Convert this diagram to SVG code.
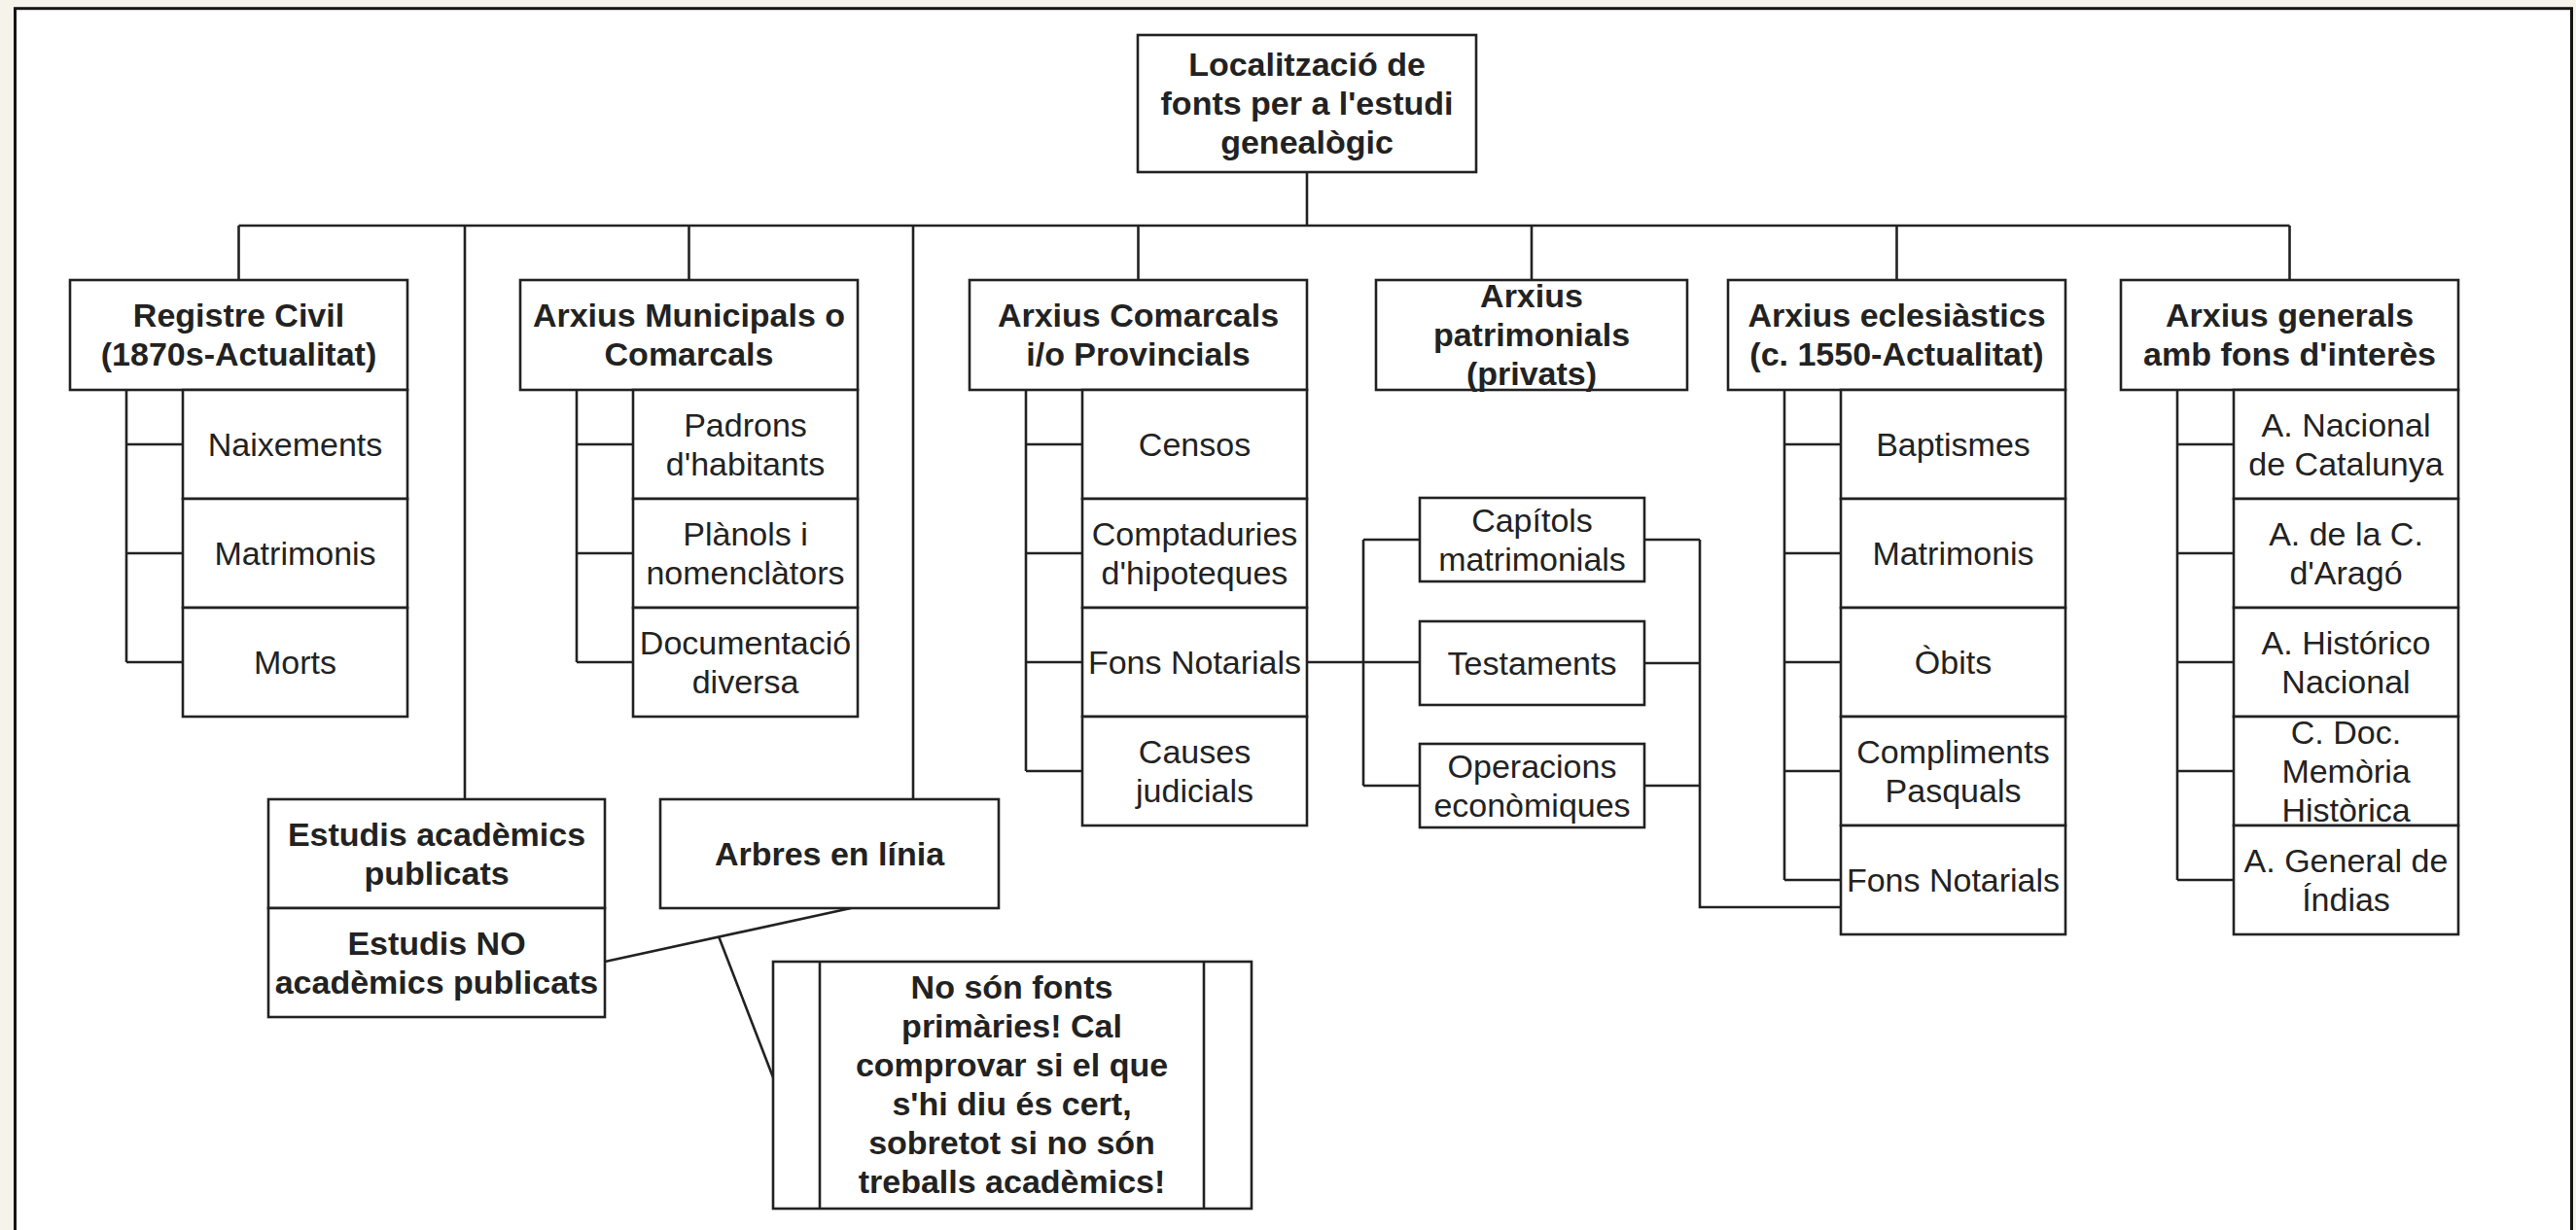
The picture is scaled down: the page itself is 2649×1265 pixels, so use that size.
<svg xmlns="http://www.w3.org/2000/svg" width="2649" height="1265" viewBox="0 0 2649 1265">
<style>
.bx{fill:#fff;stroke:#222;stroke-width:2.6}
.cn{fill:none;stroke:#222;stroke-width:2.6}
text{font-family:"Liberation Sans",Arial,sans-serif;font-size:34px;fill:#222;text-anchor:middle}
.b{font-weight:bold}
</style>
<rect x="0" y="0" width="2649" height="1265" fill="#f6f3eb"/>
<rect x="15.5" y="8.7" width="2629" height="1270" fill="#fff" stroke="#151515" stroke-width="3"/>
<g id="connectors">
<path class="cn" d="M1344 177V232M245.5 232H2354.5M245.5 232V288M478 232V822M708.5 232V288M939 232V822M1170.5 232V288M1575 232V288M1950.5 232V288M2354.5 232V288"/>
<path class="cn" d="M130 401V681M130 457H188M130 569H188M130 681H188"/>
<path class="cn" d="M593 401V681M593 457H651M593 569H651M593 681H651"/>
<path class="cn" d="M1055 401V793M1055 457H1113M1055 569H1113M1055 681H1113M1055 793H1113"/>
<path class="cn" d="M1835 401V905M1835 457H1893M1835 569H1893M1835 681H1893M1835 793H1893M1835 905H1893"/>
<path class="cn" d="M2239 401V905M2239 457H2297M2239 569H2297M2239 681H2297M2239 793H2297M2239 905H2297"/>
<path class="cn" d="M1344 681H1460M1402 555V808M1402 555H1460M1402 808H1460"/>
<path class="cn" d="M1691 555H1748M1691 682H1748M1691 808H1748M1748 555V933H1893"/>
<path class="cn" d="M622 989L875 934M739 963L795 1108"/>
</g>
<g id="root"><rect class="bx" x="1170" y="36" width="348" height="141"/>
<text class="b" x="1344" y="78">Localització de</text><text class="b" x="1344" y="118">fonts per a l'estudi</text><text class="b" x="1344" y="158">genealògic</text></g>

<g id="registre"><rect class="bx" x="72" y="288" width="347" height="113"/>
<text class="b" x="245.5" y="336">Registre Civil</text><text class="b" x="245.5" y="376">(1870s-Actualitat)</text></g>
<g id="registre-items">
<rect class="bx" x="188" y="401" width="231" height="112"/><text x="303.5" y="469">Naixements</text>
<rect class="bx" x="188" y="513" width="231" height="112"/><text x="303.5" y="581">Matrimonis</text>
<rect class="bx" x="188" y="625" width="231" height="112"/><text x="303.5" y="693">Morts</text>
</g>

<g id="municipals"><rect class="bx" x="535" y="288" width="347" height="113"/>
<text class="b" x="708.5" y="336">Arxius Municipals o</text><text class="b" x="708.5" y="376">Comarcals</text></g>
<g id="municipals-items">
<rect class="bx" x="651" y="401" width="231" height="112"/><text x="766.5" y="449">Padrons</text><text x="766.5" y="489">d'habitants</text>
<rect class="bx" x="651" y="513" width="231" height="112"/><text x="766.5" y="561">Plànols i</text><text x="766.5" y="601">nomenclàtors</text>
<rect class="bx" x="651" y="625" width="231" height="112"/><text x="766.5" y="673">Documentació</text><text x="766.5" y="713">diversa</text>
</g>

<g id="comarcals"><rect class="bx" x="997" y="288" width="347" height="113"/>
<text class="b" x="1170.5" y="336">Arxius Comarcals</text><text class="b" x="1170.5" y="376">i/o Provincials</text></g>
<g id="comarcals-items">
<rect class="bx" x="1113" y="401" width="231" height="112"/><text x="1228.5" y="469">Censos</text>
<rect class="bx" x="1113" y="513" width="231" height="112"/><text x="1228.5" y="561">Comptaduries</text><text x="1228.5" y="601">d'hipoteques</text>
<rect class="bx" x="1113" y="625" width="231" height="112"/><text x="1228.5" y="693">Fons Notarials</text>
<rect class="bx" x="1113" y="737" width="231" height="112"/><text x="1228.5" y="785">Causes</text><text x="1228.5" y="825">judicials</text>
</g>

<g id="patrimonials"><rect class="bx" x="1415" y="288" width="320" height="113"/>
<text class="b" x="1575" y="316">Arxius</text><text class="b" x="1575" y="356">patrimonials</text><text class="b" x="1575" y="396">(privats)</text></g>

<g id="capitols"><rect class="bx" x="1460" y="512" width="231" height="86"/><text x="1575.5" y="547">Capítols</text><text x="1575.5" y="587">matrimonials</text></g>
<g id="testaments"><rect class="bx" x="1460" y="639" width="231" height="86"/><text x="1575.5" y="694">Testaments</text></g>
<g id="operacions"><rect class="bx" x="1460" y="765" width="231" height="86"/><text x="1575.5" y="800">Operacions</text><text x="1575.5" y="840">econòmiques</text></g>

<g id="eclesiastics"><rect class="bx" x="1777" y="288" width="347" height="113"/>
<text class="b" x="1950.5" y="336">Arxius eclesiàstics</text><text class="b" x="1950.5" y="376">(c. 1550-Actualitat)</text></g>
<g id="eclesiastics-items">
<rect class="bx" x="1893" y="401" width="231" height="112"/><text x="2008.5" y="469">Baptismes</text>
<rect class="bx" x="1893" y="513" width="231" height="112"/><text x="2008.5" y="581">Matrimonis</text>
<rect class="bx" x="1893" y="625" width="231" height="112"/><text x="2008.5" y="693">Òbits</text>
<rect class="bx" x="1893" y="737" width="231" height="112"/><text x="2008.5" y="785">Compliments</text><text x="2008.5" y="825">Pasquals</text>
<rect class="bx" x="1893" y="849" width="231" height="112"/><text x="2008.5" y="917">Fons Notarials</text>
</g>

<g id="generals"><rect class="bx" x="2181" y="288" width="347" height="113"/>
<text class="b" x="2354.5" y="336">Arxius generals</text><text class="b" x="2354.5" y="376">amb fons d'interès</text></g>
<g id="generals-items">
<rect class="bx" x="2297" y="401" width="231" height="112"/><text x="2412.5" y="449">A. Nacional</text><text x="2412.5" y="489">de Catalunya</text>
<rect class="bx" x="2297" y="513" width="231" height="112"/><text x="2412.5" y="561">A. de la C.</text><text x="2412.5" y="601">d'Aragó</text>
<rect class="bx" x="2297" y="625" width="231" height="112"/><text x="2412.5" y="673">A. Histórico</text><text x="2412.5" y="713">Nacional</text>
<rect class="bx" x="2297" y="737" width="231" height="112"/><text x="2412.5" y="765">C. Doc.</text><text x="2412.5" y="805">Memòria</text><text x="2412.5" y="845">Històrica</text>
<rect class="bx" x="2297" y="849" width="231" height="112"/><text x="2412.5" y="897">A. General de</text><text x="2412.5" y="937">Índias</text>
</g>

<g id="estudis"><rect class="bx" x="276" y="822" width="346" height="112"/>
<text class="b" x="449" y="870">Estudis acadèmics</text><text class="b" x="449" y="910">publicats</text></g>
<g id="estudis-no"><rect class="bx" x="276" y="934" width="346" height="112"/>
<text class="b" x="449" y="982">Estudis NO</text><text class="b" x="449" y="1022">acadèmics publicats</text></g>
<g id="arbres"><rect class="bx" x="679" y="822" width="348" height="112"/>
<text class="b" x="853" y="890">Arbres en línia</text></g>
<g id="nota"><rect class="bx" x="795" y="989" width="492" height="254"/>
<path class="cn" d="M843 989V1243M1238 989V1243"/>
<text class="b" x="1040.5" y="1027">No són fonts</text><text class="b" x="1040.5" y="1067">primàries! Cal</text><text class="b" x="1040.5" y="1107">comprovar si el que</text><text class="b" x="1040.5" y="1147">s'hi diu és cert,</text><text class="b" x="1040.5" y="1187">sobretot si no són</text><text class="b" x="1040.5" y="1227">treballs acadèmics!</text></g>
</svg>
